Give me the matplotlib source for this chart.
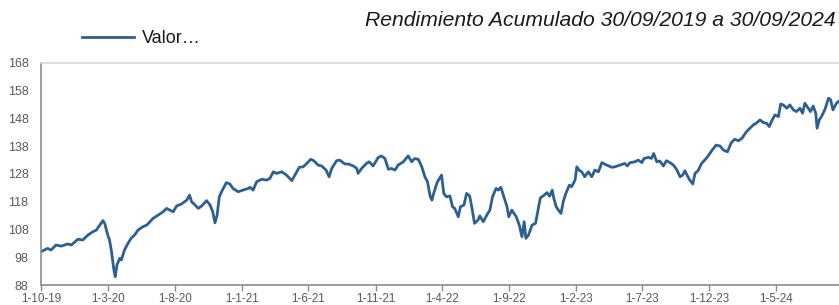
import matplotlib
matplotlib.use("Agg")
import matplotlib.pyplot as plt
import matplotlib.dates as mdates
import pandas as pd

plt.rcParams['font.family'] = ['Liberation Sans', 'DejaVu Sans']

title = "Rendimiento Acumulado 30/09/2019 a 30/09/2024"
series_name = "Valor…"

dates = [
    "2019-10-01", "2019-10-16", "2019-10-24", "2019-11-04", "2019-11-16", "2019-12-01", "2019-12-09",
    "2019-12-24", "2020-01-04", "2020-01-16", "2020-01-27", "2020-02-04", "2020-02-19", "2020-02-23",
    "2020-03-01", "2020-03-05", "2020-03-09", "2020-03-15", "2020-03-18", "2020-03-22", "2020-03-28",
    "2020-04-01", "2020-04-08", "2020-04-16", "2020-04-23", "2020-05-01", "2020-05-09", "2020-05-20",
    "2020-05-29", "2020-06-12", "2020-06-24", "2020-07-05", "2020-07-13", "2020-07-20", "2020-07-28",
    "2020-08-05", "2020-08-16", "2020-08-28", "2020-09-03", "2020-09-08", "2020-09-16", "2020-09-23",
    "2020-10-01", "2020-10-12", "2020-10-20", "2020-10-26", "2020-10-31", "2020-11-05", "2020-11-10",
    "2020-11-17", "2020-11-26", "2020-12-04", "2020-12-11", "2020-12-23", "2021-01-03", "2021-01-15",
    "2021-01-19", "2021-01-26", "2021-02-03", "2021-02-14", "2021-02-26", "2021-03-05", "2021-03-13",
    "2021-03-20", "2021-04-01", "2021-04-12", "2021-04-24", "2021-05-01", "2021-05-11", "2021-05-20",
    "2021-05-28", "2021-06-06", "2021-06-13", "2021-06-23", "2021-07-01", "2021-07-11", "2021-07-18",
    "2021-07-24", "2021-08-04", "2021-08-11", "2021-08-23", "2021-08-31", "2021-09-11", "2021-09-19",
    "2021-09-22", "2021-09-30", "2021-10-11", "2021-10-17", "2021-10-26", "2021-11-07", "2021-11-14",
    "2021-11-22", "2021-11-30", "2021-12-07", "2021-12-15", "2021-12-22", "2022-01-03", "2022-01-14",
    "2022-01-22", "2022-01-29", "2022-02-06", "2022-02-14", "2022-02-21", "2022-02-27", "2022-03-05",
    "2022-03-09", "2022-03-13", "2022-03-21", "2022-03-28", "2022-03-31", "2022-04-05", "2022-04-11",
    "2022-04-19", "2022-04-25", "2022-04-30", "2022-05-08", "2022-05-13", "2022-05-21", "2022-05-27",
    "2022-06-03", "2022-06-09", "2022-06-14", "2022-06-22", "2022-06-26", "2022-07-04", "2022-07-12",
    "2022-07-19", "2022-07-25", "2022-08-02", "2022-08-07", "2022-08-13", "2022-08-21", "2022-08-27",
    "2022-08-31", "2022-09-07", "2022-09-17", "2022-09-24", "2022-09-30", "2022-10-05", "2022-10-09",
    "2022-10-15", "2022-10-23", "2022-10-31", "2022-11-07", "2022-11-11", "2022-11-19", "2022-11-26",
    "2022-12-02", "2022-12-08", "2022-12-11", "2022-12-17", "2022-12-22", "2022-12-28", "2023-01-02",
    "2023-01-08", "2023-01-16", "2023-01-21", "2023-01-29", "2023-02-02", "2023-02-07", "2023-02-13",
    "2023-02-20", "2023-02-28", "2023-03-08", "2023-03-15", "2023-03-23", "2023-03-31", "2023-04-11",
    "2023-04-23", "2023-04-30", "2023-05-11", "2023-05-22", "2023-05-28", "2023-06-03", "2023-06-14",
    "2023-06-22", "2023-06-30", "2023-07-05", "2023-07-15", "2023-07-22", "2023-07-27", "2023-08-03",
    "2023-08-10", "2023-08-18", "2023-08-25", "2023-09-02", "2023-09-10", "2023-09-17", "2023-09-25",
    "2023-10-01", "2023-10-06", "2023-10-11", "2023-10-17", "2023-10-24", "2023-10-29", "2023-11-05",
    "2023-11-13", "2023-11-20", "2023-11-28", "2023-12-06", "2023-12-16", "2023-12-25", "2024-01-02",
    "2024-01-11", "2024-01-19", "2024-01-27", "2024-02-05", "2024-02-13", "2024-02-23", "2024-03-02",
    "2024-03-10", "2024-03-18", "2024-03-25", "2024-04-02", "2024-04-09", "2024-04-15", "2024-04-20",
    "2024-04-28", "2024-05-06", "2024-05-11", "2024-05-17", "2024-05-25", "2024-06-01", "2024-06-09",
    "2024-06-16", "2024-06-24", "2024-06-30", "2024-07-05", "2024-07-13", "2024-07-18", "2024-07-24",
    "2024-07-30", "2024-08-02", "2024-08-07", "2024-08-12", "2024-08-20", "2024-08-28", "2024-09-02",
    "2024-09-07", "2024-09-15", "2024-09-22",
]

values = [
    100.0, 101.2, 100.6, 102.4, 102.0, 102.8, 102.4,
    104.5, 104.2, 106.0, 107.2, 107.8, 111.2, 110.2,
    106.0, 104.2, 100.6, 93.4, 91.0, 95.2, 97.6,
    97.0, 100.6, 103.0, 104.8, 106.0, 107.8, 109.0,
    109.6, 112.0, 113.2, 114.4, 115.6, 115.0, 114.4,
    116.5, 117.2, 118.6, 120.4, 118.0, 116.8, 115.6,
    116.5, 118.4, 116.8, 114.4, 110.4, 113.2, 119.8,
    122.2, 124.9, 124.4, 122.8, 121.6, 122.2, 122.8,
    123.2, 122.2, 125.2, 126.1, 125.8, 126.4, 128.8,
    128.2, 128.8, 127.6, 125.6, 127.6, 130.4, 130.6,
    131.8, 133.3, 132.8, 131.2, 130.9, 129.4, 127.0,
    130.0, 132.8, 133.0, 131.6, 131.6, 130.9, 130.0,
    128.2, 130.0, 131.8, 132.4, 130.9, 134.0, 134.5,
    133.6, 129.7, 130.0, 129.4, 131.2, 132.4, 134.5,
    132.4, 133.6, 133.3, 130.6, 127.0, 125.2, 120.0,
    118.6, 121.0, 125.0, 126.8, 127.6, 121.0, 119.8,
    120.1, 116.2, 115.6, 112.6, 116.2, 116.8, 121.0,
    120.1, 115.0, 110.2, 111.4, 112.9, 110.8, 113.2,
    115.0, 119.8, 122.8, 122.2, 123.2, 119.2, 116.2,
    112.6, 115.0, 112.6, 109.6, 105.4, 110.8, 104.8,
    106.0, 109.6, 110.2, 116.2, 119.4, 120.3, 121.3,
    120.0, 122.2, 119.6, 116.2, 115.0, 113.8, 118.0,
    121.0, 124.0, 123.4, 125.8, 130.6, 129.4, 128.8,
    127.0, 128.8, 127.0, 129.4, 128.8, 132.1, 131.2,
    130.4, 130.6, 131.2, 131.8, 130.9, 132.1, 132.4,
    133.0, 132.1, 133.6, 134.0, 133.6, 135.4, 132.4,
    132.7, 130.9, 132.8, 132.1, 131.2, 129.7, 127.0,
    127.6, 129.2, 127.6, 125.8, 124.4, 128.2, 129.2,
    131.8, 133.0, 134.5, 136.4, 138.4, 138.1, 136.6,
    136.0, 139.1, 140.5, 140.0, 140.9, 143.2, 144.5,
    145.7, 146.5, 147.5, 146.5, 146.3, 145.1, 146.9,
    149.3, 148.7, 153.2, 152.9, 151.7, 152.9, 151.1,
    150.5, 151.7, 149.9, 153.5, 151.7, 150.5, 152.5,
    149.9, 144.5, 147.5, 148.7, 151.3, 155.3, 154.7,
    151.1, 153.5, 154.4,
]

x_ticks = ["2019-10-01", "2020-03-01", "2020-08-01", "2021-01-01", "2021-06-01", "2021-11-01",
           "2022-04-01", "2022-09-01", "2023-02-01", "2023-07-01", "2023-12-01", "2024-05-01"]
y_ticks = [88, 98, 108, 118, 128, 138, 148, 158, 168]

W, H = 839, 305
fig = plt.figure(figsize=(W / 100, H / 100), dpi=100)
ax = fig.add_axes([41 / W, (H - 285) / H, (843 - 41) / W, (285 - 63) / H])

line_color = "#2E5F91"
ax.plot(pd.to_datetime(dates), values, color=line_color, lw=2.0, label=series_name,
        solid_joinstyle="round")

ax.set_xlim(pd.Timestamp("2019-10-01"), pd.Timestamp("2024-09-30"))
ax.set_ylim(88, 168)
ax.set_yticks(y_ticks)
ax.set_xticks(pd.to_datetime(x_ticks))
ax.xaxis.set_major_formatter(mdates.DateFormatter("%-d-%-m-%y"))

tick_col = "#595959"
ax.tick_params(axis="y", length=0, pad=9, labelsize=9, labelcolor=tick_col)
ax.tick_params(axis="x", length=4, width=1, color="#8c8c8c", pad=1.5, labelsize=8.4,
               labelcolor=tick_col)

for s in ("left", "bottom"):
    ax.spines[s].set_color("#8c8c8c")
    ax.spines[s].set_linewidth(1.2)
ax.spines["top"].set_color("#d9d9d9")
ax.spines["top"].set_linewidth(1.2)
ax.spines["right"].set_visible(False)

fig.text(836 / W, 1 - 21 / H, title, ha="right", va="center", style="italic",
         fontsize=15.2, color="#1a1a1a")

leg = ax.legend(loc="center left", bbox_to_anchor=(82 / W, 1 - 38.5 / H),
                bbox_transform=fig.transFigure, frameon=False, fontsize=13,
                handlelength=2.9, handletextpad=0.4, borderpad=0, borderaxespad=0)
for t in leg.get_texts():
    t.set_color("#1a1a1a")

fig.savefig("out.png", dpi=100)
